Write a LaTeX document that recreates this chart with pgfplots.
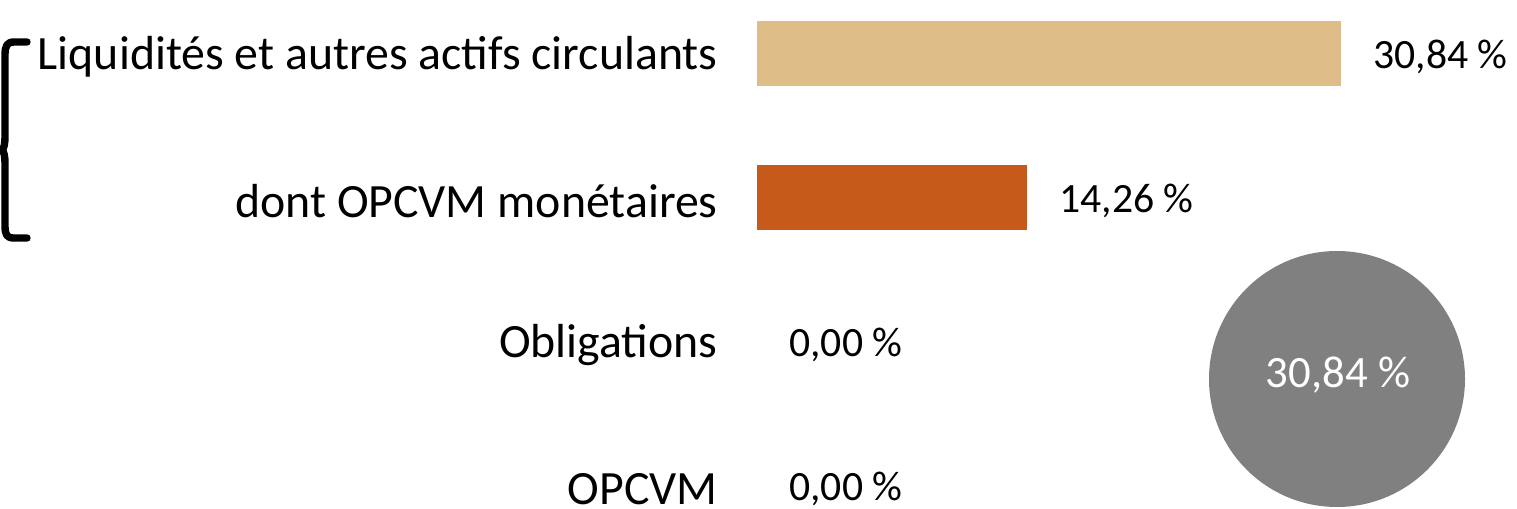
\documentclass[border=0pt]{standalone}
\usepackage{pgfplots}
\pgfplotsset{compat=1.18}
\usepackage{fontspec}
\setmainfont{Carlito}
\definecolor{tanbar}{HTML}{DEBD89}
\definecolor{orangebar}{HTML}{C55A1B}
\definecolor{circgray}{HTML}{808080}
\begin{document}
\begin{tikzpicture}[x=0.5pt,y=-0.5pt]
\useasboundingbox (0,0) rectangle (1517,509);
\begin{axis}[
  at={(378.5pt,0pt)}, anchor=north west,
  scale only axis, width=380pt, height=254.5pt,
  xbar, bar width=32.5pt, bar shift=0pt,
  xmin=0, xmax=40.13, ymin=-0.3715, ymax=3.163, y dir=reverse,
  ytick={0,1,2,3},
  yticklabels={Liquidités et autres actifs circulants, dont OPCVM monétaires, Obligations, OPCVM},
  xtick=\empty,
  axis line style={draw=none},
  major tick length=0pt,
  yticklabel style={font=\fontsize{23.9}{28}\selectfont, anchor=east, inner sep=0pt, xshift=-19.5pt, yshift=-1.8pt},
  nodes near coords={\pgfmathprintnumber{\pgfplotspointmeta}\ \%},
  nodes near coords align=horizontal,
  every node near coord/.append style={font=\fontsize{20.85}{24}\selectfont, anchor=west, inner sep=0pt, xshift=16pt, yshift=-1.5pt, text=black},
  clip=false,
  /pgf/number format/.cd, use comma, fixed, fixed zerofill, precision=2, assume math mode=true
]
\addplot[fill=tanbar, draw=none] coordinates {(30.84,0)};
\addplot[fill=orangebar, draw=none] coordinates {(14.26,1)};
\addplot[fill=none, draw=none] coordinates {(0,2) (0,3)};
\end{axis}
\fill[circgray] (1337,379) circle[radius=64pt];
\node[text=white, font=\fontsize{22.4}{26}\selectfont] at (1338,375) {30,84 \%};
\draw[line width=3.7pt, line cap=round, line join=round]
  (27,42) -- (14,42) .. controls (7,42) and (5,46) .. (5,55) -- (5,135)
  .. controls (5,145) and (4,148) .. (2,150)
  .. controls (4,152) and (5,155) .. (5,165) -- (5,226)
  .. controls (5,235) and (7,238) .. (14,238) -- (27,238);
\end{tikzpicture}
\end{document}
